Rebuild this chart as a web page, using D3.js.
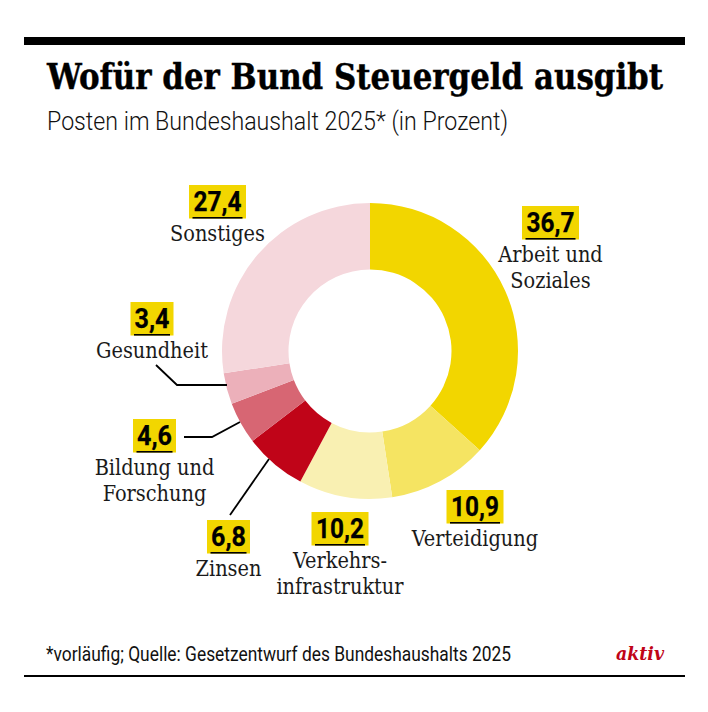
<!DOCTYPE html>
<html lang="de">
<head>
<meta charset="utf-8">
<script src="https://cdn.jsdelivr.net/npm/d3@7.9.0/dist/d3.min.js"></script>
<style>
  html, body { margin: 0; background: #fff; }
  svg { display: block; }
  .value { font: 700 27px Roboto, sans-serif; fill: #000; stroke: #000; stroke-width: 0.25; text-anchor: middle; }
  .label { font: 400 21.5px "DejaVu Serif Condensed", "DejaVu Serif", serif; fill: #1a1a1a; text-anchor: middle; }
</style>
</head>
<body>
<svg id="chart" width="708" height="712"></svg>
<script>
const categories = ['Arbeit und Soziales', 'Verteidigung', 'Verkehrsinfrastruktur', 'Zinsen', 'Bildung und Forschung', 'Gesundheit', 'Sonstiges'];
const values = [36.7, 10.9, 10.2, 6.8, 4.6, 3.4, 27.4];
const colors = ['#f2d600', '#f5e462', '#f9f0b2', '#c00418', '#d76673', '#ecb0ba', '#f5d7dc'];

const svg = d3.select('#chart');
const fmt = v => v.toFixed(1).replace('.', ',');

// rules
svg.append('rect').attr('x', 24).attr('y', 37).attr('width', 661).attr('height', 8).attr('fill', '#000');
svg.append('rect').attr('x', 24).attr('y', 675).attr('width', 661).attr('height', 2).attr('fill', '#000');

// header + footer
svg.append('text').attr('x', 47).attr('y', 88.5)
  .attr('textLength', 616).attr('lengthAdjust', 'spacingAndGlyphs')
  .attr('stroke', '#000').attr('stroke-width', 0.4)
  .style('font', '700 35px "DejaVu Serif Condensed", "DejaVu Serif", serif')
  .text('Wofür der Bund Steuergeld ausgibt');
svg.append('text').attr('x', 47).attr('y', 130)
  .attr('textLength', 461).attr('lengthAdjust', 'spacingAndGlyphs')
  .style('font', '300 26px Roboto, sans-serif').attr('fill', '#111')
  .text('Posten im Bundeshaushalt 2025* (in Prozent)');
svg.append('text').attr('x', 46).attr('y', 661)
  .attr('textLength', 465).attr('lengthAdjust', 'spacingAndGlyphs')
  .style('font', '400 19.5px Roboto, sans-serif').attr('fill', '#111')
  .text('*vorläufig; Quelle: Gesetzentwurf des Bundeshaushalts 2025');
svg.append('text').attr('x', 664).attr('y', 660).attr('text-anchor', 'end')
  .attr('textLength', 48).attr('lengthAdjust', 'spacingAndGlyphs')
  .style('font', 'italic 700 19px "DejaVu Serif", serif').attr('fill', '#c00418')
  .text('aktiv');

// donut
const pie = d3.pie().sort(null).value(d => d);
const arc = d3.arc().innerRadius(81.5).outerRadius(148);
svg.append('g').attr('transform', 'translate(370,351)')
  .selectAll('path')
  .data(pie(values))
  .enter()
  .append('path')
  .attr('d', arc)
  .attr('fill', (_, i) => colors[i]);

// label placement, same order as categories; y = top of the yellow box
const labels = [
  { x: 550.5, y: 206, lines: ['Arbeit und', 'Soziales'] },
  { x: 475, y: 490, lines: ['Verteidigung'] },
  { x: 340, y: 512, lines: ['Verkehrs-', 'infrastruktur'] },
  { x: 228.5, y: 520, lines: ['Zinsen'] },
  { x: 154.5, y: 419, lines: ['Bildung und', 'Forschung'] },
  { x: 152, y: 302, lines: ['Gesundheit'] },
  { x: 217.5, y: 185, lines: ['Sonstiges'] }
];

labels.forEach((d, i) => {
  const text = fmt(values[i]);
  const wide = text.length > 3;
  const w = wide ? 57 : 43;
  const uw = w - 7;
  const g = svg.append('g');
  g.append('rect').attr('x', d.x - w / 2).attr('y', d.y).attr('width', w).attr('height', 33.5).attr('fill', '#f2d600');
  g.append('text').attr('class', 'value').attr('x', d.x).attr('y', d.y + 26)
    .attr('textLength', wide ? 48 : 35).attr('lengthAdjust', 'spacingAndGlyphs')
    .text(text);
  g.append('rect').attr('x', d.x - uw / 2).attr('y', d.y + 32).attr('width', uw).attr('height', 1.6).attr('fill', '#000');
  d.lines.forEach((t, j) => {
    g.append('text').attr('class', 'label').attr('x', d.x).attr('y', d.y + 56 + j * 26).text(t);
  });
});

// leader lines
const line = d3.line();
[
  [[156, 365], [177, 385], [227, 385]],
  [[184, 437], [212, 437], [240, 422]],
  [[230, 515], [269, 459]]
].forEach(p => {
  svg.append('path').attr('d', line(p)).attr('fill', 'none').attr('stroke', '#000').attr('stroke-width', 1.8);
});
</script>
</body>
</html>
